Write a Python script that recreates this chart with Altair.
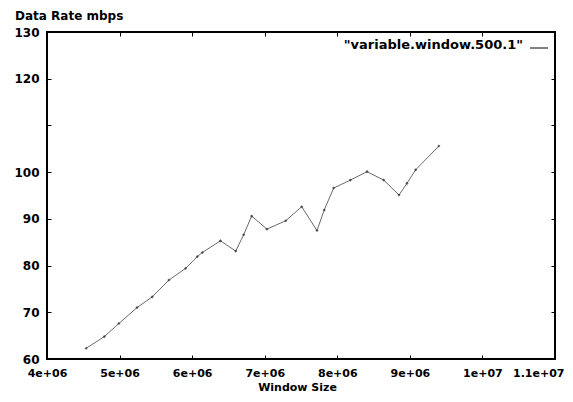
import altair as alt
import pandas as pd

# Data (window size in bytes, data rate in mbps)
window_size = [4.54e6, 4.79e6, 4.99e6, 5.24e6, 5.45e6, 5.68e6, 5.91e6, 6.07e6,
               6.14e6, 6.39e6, 6.60e6, 6.71e6, 6.82e6, 7.03e6, 7.29e6, 7.51e6,
               7.72e6, 7.82e6, 7.95e6, 8.18e6, 8.41e6, 8.64e6, 8.85e6, 8.96e6,
               9.08e6, 9.40e6]
data_rate = [62.3, 64.8, 67.6, 71.0, 73.3, 76.9, 79.4, 81.9,
             82.8, 85.3, 83.1, 86.6, 90.6, 87.8, 89.6, 92.6,
             87.5, 91.9, 96.6, 98.3, 100.1, 98.3, 95.1, 97.6,
             100.5, 105.6]
x_ticks = [4e6, 5e6, 6e6, 7e6, 8e6, 9e6, 1e7, 1.1e7]
y_ticks = [60, 70, 80, 90, 100, 110, 120, 130]
series_name = '"variable.window.500.1"'
y_title = "Data Rate mbps"
x_title = "Window Size"

df = pd.DataFrame({"size": window_size, "rate": data_rate})
FONT = "DejaVu Sans"

x_label_expr = ("datum.value == 10000000 ? '1e+07' : datum.value == 11000000 ? '1.1e+07' : "
                "format(datum.value / 1000000, 'd') + 'e+06'")
y_label_expr = "datum.value == 110 ? '' : format(datum.value, 'd')"

xscale = alt.Scale(domain=[4e6, 1.1e7], nice=False, zero=False)
yscale = alt.Scale(domain=[60, 130], nice=False, zero=False)

base = alt.Chart(df)

line = base.mark_line(color="#6a6a6a", strokeWidth=1).encode(
    x=alt.X("size:Q", scale=xscale,
            axis=alt.Axis(values=x_ticks, labelExpr=x_label_expr, orient="bottom",
                          offset=-4, tickSize=4, domain=False, grid=False,
                          labelOverlap=False, labelFlush=False, labelBound=False,
                          labelAlign=alt.ExprRef(expr="datum.value == 11000000 ? 'right' : 'center'"),
                          labelOffset=alt.ExprRef(expr="datum.value == 11000000 ? 9 : 0"),
                          labelPadding=8, labelFont=FONT, labelFontWeight="bold",
                          labelFontSize=11, labelColor="black", tickColor="black",
                          title=x_title, titleFont=FONT, titleFontSize=11,
                          titleFontWeight="bold", titlePadding=3, titleX=250)),
    y=alt.Y("rate:Q", scale=yscale,
            axis=alt.Axis(values=y_ticks, labelExpr=y_label_expr, orient="left",
                          offset=-4, tickSize=4, domain=False, grid=False,
                          labelOverlap=False, labelFlush=False, labelBound=False,
                          labelPadding=8, labelFont=FONT, labelFontWeight="bold",
                          labelFontSize=12, labelColor="black", tickColor="black",
                          title=None)),
)

points = base.mark_point(shape="diamond", size=10, filled=True, color="#222222").encode(
    x=alt.X("size:Q", scale=xscale,
            axis=alt.Axis(values=x_ticks, orient="top", offset=-4, tickSize=4,
                          domain=False, grid=False, labels=False, title=None,
                          tickColor="black")),
    y=alt.Y("rate:Q", scale=yscale,
            axis=alt.Axis(values=y_ticks, orient="right", offset=-4, tickSize=4,
                          domain=False, grid=False, labels=False, title=None,
                          tickColor="black")),
)

label_df = pd.DataFrame({"t": [series_name], "yt": [y_title]})

legend_text = alt.Chart(label_df).mark_text(
    align="right", baseline="middle", font=FONT, fontWeight="bold", fontSize=13,
    color="black").encode(
    text="t:N", x=alt.value(476), y=alt.value(13))

legend_line = alt.Chart(label_df).mark_rule(color="black", strokeWidth=1).encode(
    x=alt.value(483), x2=alt.value(501), y=alt.value(16))

ytitle = alt.Chart(label_df).mark_text(
    align="left", baseline="middle", font=FONT, fontWeight="bold", fontSize=12,
    color="black").encode(
    text="yt:N", x=alt.value(-32), y=alt.value(-16))

chart = alt.layer(line, points, legend_text, legend_line, ytitle).resolve_axis(
    x="independent", y="independent"
).properties(
    width=508, height=327,
    autosize=alt.AutoSizeParams(type="none"),
    padding={"left": 39, "top": 24, "right": 10, "bottom": 35},
    background="white",
).configure_view(stroke="black", strokeWidth=2)

chart.save("out.html", embed_options={"renderer": "svg", "actions": False})
